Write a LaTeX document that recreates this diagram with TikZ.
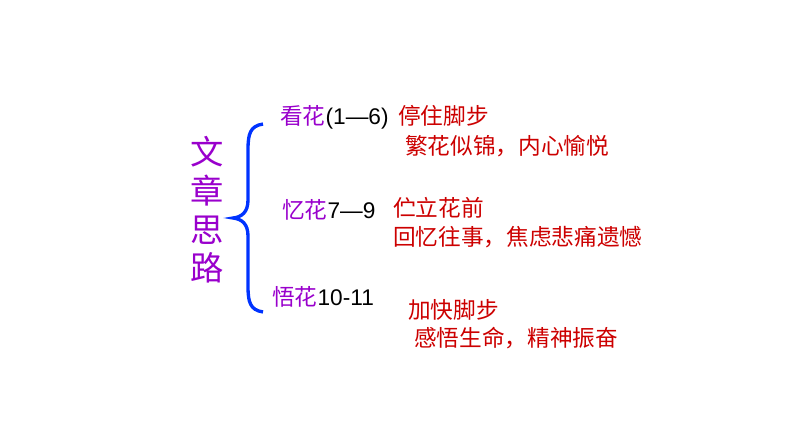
\documentclass[tikz,border=0pt]{standalone}
\usepackage{fontspec}
\setmainfont{Liberation Sans}
\newfontfamily\cjk{Noto Sans CJK SC}
\definecolor{pur}{RGB}{153,0,204}
\definecolor{rd}{RGB}{204,0,0}
\definecolor{bl}{RGB}{0,51,255}
\tikzset{lbl/.style={anchor=west,inner sep=0pt,font=\fontsize{17}{20}\selectfont},
red/.style={lbl,text=rd}}
\begin{document}
\begin{tikzpicture}[x=0.75pt,y=-0.75pt]
\useasboundingbox (0,0) rectangle (794,447);
\node[text=pur,font=\fontsize{25}{29}\cjk\selectfont,align=center,inner sep=0pt] (t) at (207,210) {文\\章\\思\\路};
\draw[bl,line width=2.5pt] (263,124) .. controls (250,126) and (248,134) .. (248,150) -- (248,200) .. controls (248,212) and (242,217) .. (233,218) .. controls (242,219) and (248,224) .. (248,236) -- (248,286) .. controls (248,302) and (250,310) .. (263,312);
\node[lbl] (a) at (280,117) {\textcolor{pur}{\cjk 看花}(1—6)};
\node[lbl] (b) at (282,210) {\textcolor{pur}{\cjk 忆花}7—9};
\node[lbl] (c) at (272,297) {\textcolor{pur}{\cjk 悟花}10-11};
\node[red] (a1) at (398,116) {\cjk 停住脚步};
\node[red] (a2) at (405,146) {\cjk 繁花似锦，内心愉悦};
\node[red] (b1) at (393,208) {\cjk 伫立花前};
\node[red] (b2) at (393,237) {\cjk 回忆往事，焦虑悲痛遗憾};
\node[red] (c1) at (408,310) {\cjk 加快脚步};
\node[red] (c2) at (414,338) {\cjk 感悟生命，精神振奋};
\end{tikzpicture}
\end{document}
